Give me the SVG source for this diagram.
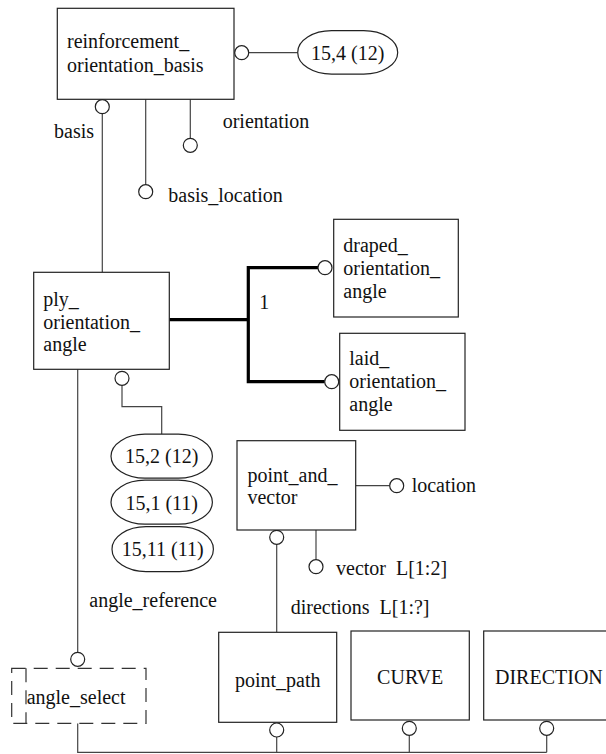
<svg xmlns="http://www.w3.org/2000/svg" width="606" height="754" viewBox="0 0 606 754" font-family="'Liberation Serif', Tinos, 'Times New Roman', 'DejaVu Serif', serif">
  <style>
    .box { fill: #fff; stroke: #222; stroke-width: 1.2; }
    .sel { fill: #fff; stroke: #333; stroke-width: 1.2; stroke-dasharray: 14 8; }
    .ln { fill: none; stroke: #444; stroke-width: 1.2; }
    .thick { fill: none; stroke: #000; stroke-width: 3.2; }
    .dot { fill: #fff; stroke: #222; stroke-width: 1.2; }
    .ref { fill: #fff; stroke: #222; stroke-width: 1.2; }
    text { font-family: 'Liberation Serif', Tinos, 'Times New Roman', 'DejaVu Serif', serif; font-size: 20px; fill: #111; }
    .mid { text-anchor: middle; }
  </style>

  <!-- connectors -->
  <g id="connectors">
    <!-- reinforcement_orientation_basis attributes -->
    <line class="ln" x1="249" y1="52.7" x2="297.7" y2="52.7"/>
    <line class="ln" x1="102.3" y1="113.7" x2="102.3" y2="272.3"/>
    <line class="ln" x1="145.7" y1="99.3" x2="145.7" y2="184.7"/>
    <line class="ln" x1="190.3" y1="99.3" x2="190.3" y2="138.3"/>
    <!-- supertype tree -->
    <polyline class="thick" points="169.3,319.7 248.3,319.7"/>
    <polyline class="thick" points="318,267.7 248.3,267.7 248.3,381.7 324.7,381.7"/>
    <!-- ply_orientation_angle attributes -->
    <polyline class="ln" points="122,385.3 122,406.7 161.7,406.7 161.7,434"/>
    <line class="ln" x1="77.7" y1="369.3" x2="77.7" y2="652.3"/>
    <!-- point_and_vector attributes -->
    <line class="ln" x1="355.7" y1="485.7" x2="389.7" y2="485.7"/>
    <line class="ln" x1="316" y1="530" x2="316" y2="559.7"/>
    <line class="ln" x1="276.7" y1="544.3" x2="276.7" y2="632.3"/>
    <!-- select tree -->
    <polyline class="ln" points="77.7,723.3 77.7,752.3 546.7,752.3"/>
    <line class="ln" x1="276.7" y1="737" x2="276.7" y2="752.3"/>
    <line class="ln" x1="409.3" y1="735.3" x2="409.3" y2="752.3"/>
    <line class="ln" x1="546.7" y1="735.3" x2="546.7" y2="752.3"/>

    <!-- end circles -->
    <circle class="dot" cx="241.7" cy="52.7" r="7"/>
    <circle class="dot" cx="102.3" cy="106.7" r="7"/>
    <circle class="dot" cx="145.7" cy="191.7" r="7"/>
    <circle class="dot" cx="190.3" cy="145.3" r="7"/>
    <circle class="dot" cx="325" cy="267.7" r="7"/>
    <circle class="dot" cx="331.7" cy="381.7" r="7"/>
    <circle class="dot" cx="122" cy="378.3" r="7"/>
    <circle class="dot" cx="77.7" cy="659.3" r="7"/>
    <circle class="dot" cx="396.7" cy="485.7" r="7"/>
    <circle class="dot" cx="316" cy="566.7" r="7"/>
    <circle class="dot" cx="276.7" cy="537.3" r="7"/>
    <circle class="dot" cx="276.7" cy="730" r="7"/>
    <circle class="dot" cx="409.3" cy="728.3" r="7"/>
    <circle class="dot" cx="546.7" cy="728.3" r="7"/>

    <!-- attribute labels -->
    <text x="54" y="138">basis</text>
    <text x="222.7" y="128">orientation</text>
    <text x="168.3" y="202">basis_location</text>
    <text x="259.3" y="309">1</text>
    <text x="89.3" y="607">angle_reference</text>
    <text x="411.7" y="492">location</text>
    <text x="336" y="575" xml:space="preserve">vector  L[1:2]</text>
    <text x="290.7" y="613.5" xml:space="preserve">directions  L[1:?]</text>
  </g>

  <g id="reinforcement_orientation_basis">
    <rect class="box" x="57.3" y="8.3" width="176.7" height="91"/>
    <text x="67" y="48">reinforcement_</text>
    <text x="67" y="72">orientation_basis</text>
  </g>

  <g id="ref_15_4">
    <rect class="ref" x="297.7" y="30.7" width="100" height="43.4" rx="34" ry="21.7"/>
    <text class="mid" x="347.7" y="60">15,4 (12)</text>
  </g>

  <g id="ply_orientation_angle">
    <rect class="box" x="33.7" y="272.3" width="135.6" height="97"/>
    <text x="43.3" y="306">ply_</text>
    <text x="43.3" y="328.5">orientation_</text>
    <text x="43.3" y="351">angle</text>
  </g>

  <g id="draped_orientation_angle">
    <rect class="box" x="333.7" y="219.3" width="124.6" height="97.7"/>
    <text x="343.3" y="252">draped_</text>
    <text x="343.3" y="275">orientation_</text>
    <text x="343.3" y="298">angle</text>
  </g>

  <g id="laid_orientation_angle">
    <rect class="box" x="339.7" y="333.3" width="125.3" height="97"/>
    <text x="349.3" y="365">laid_</text>
    <text x="349.3" y="388">orientation_</text>
    <text x="349.3" y="411">angle</text>
  </g>

  <g id="ref_15_2">
    <rect class="ref" x="111" y="434.2" width="101.4" height="44" rx="34" ry="22"/>
    <text class="mid" x="161.7" y="463.3">15,2 (12)</text>
  </g>
  <g id="ref_15_1">
    <rect class="ref" x="111" y="480.2" width="101.4" height="44" rx="34" ry="22"/>
    <text class="mid" x="161.7" y="509.5">15,1 (11)</text>
  </g>
  <g id="ref_15_11">
    <rect class="ref" x="112" y="526.7" width="101.4" height="45" rx="34" ry="22.5"/>
    <text class="mid" x="162.7" y="556.3">15,11 (11)</text>
  </g>

  <g id="point_and_vector">
    <rect class="box" x="237" y="440.7" width="118.7" height="89.3"/>
    <text x="247.4" y="481.5">point_and_</text>
    <text x="247.4" y="504">vector</text>
  </g>

  <g id="angle_select">
    <rect class="sel" x="11.7" y="668.3" width="134.3" height="55"/>
    <line class="sel" x1="26" y1="668.3" x2="26" y2="723.3"/>
    <text x="26.7" y="703.5">angle_select</text>
  </g>

  <g id="point_path">
    <rect class="box" x="218.7" y="632.3" width="118" height="90"/>
    <text class="mid" x="277.7" y="687">point_path</text>
  </g>

  <g id="CURVE">
    <rect class="box" x="351" y="631" width="118.3" height="89"/>
    <text class="mid" x="410.2" y="684">CURVE</text>
  </g>

  <g id="DIRECTION">
    <rect class="box" x="483.7" y="631" width="130" height="89"/>
    <text x="495" y="684">DIRECTION</text>
  </g>
</svg>
